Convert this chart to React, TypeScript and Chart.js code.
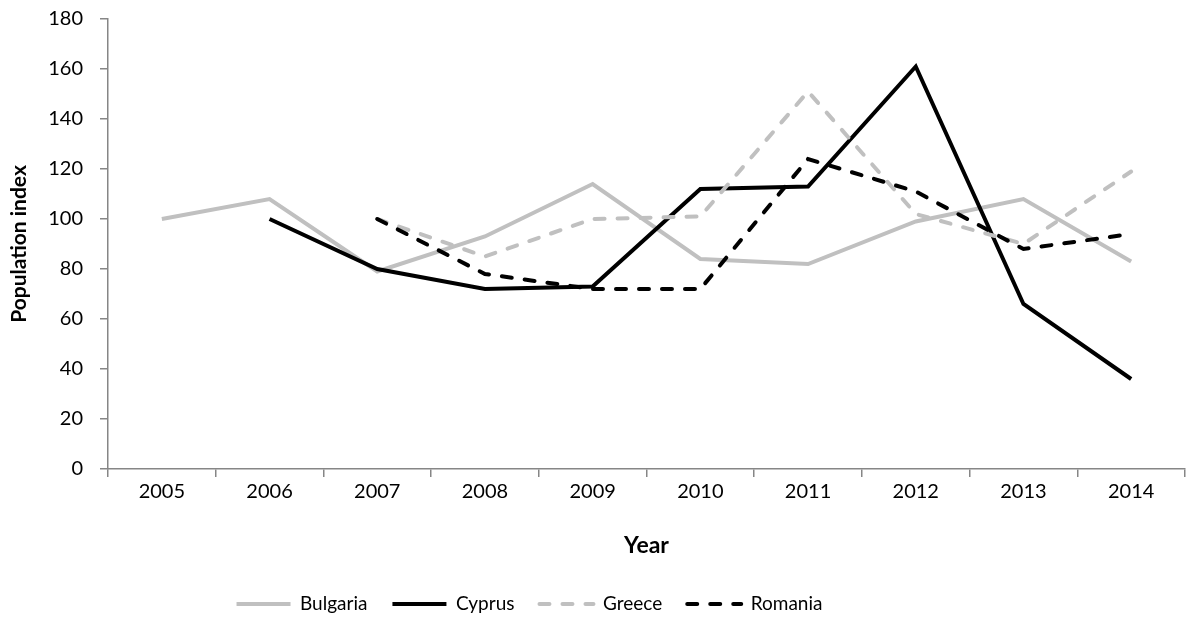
import React, { useEffect, useRef } from "react";
import { Chart, registerables } from "chart.js";

Chart.register(...registerables);

const years = ["2005", "2006", "2007", "2008", "2009", "2010", "2011", "2012", "2013", "2014"];
const bulgaria = [100, 108, 79, 93, 114, 84, 82, 99, 108, 83];
const cyprus = [null, 100, 80, 72, 73, 112, 113, 161, 66, 36];
const greece = [null, null, 100, 85, 100, 101, 151, 102, 90, 119];
const romania = [null, null, 100, 78, 72, 72, 124, 111, 88, 94];

const FONT = "Lato, 'Open Sans', sans-serif";
const GRAY = "#c0c0c0";
const AXIS = "#868686";
const DASH = [10, 13];

const LEGEND_CENTER_Y = 604;
const LEGEND_SHIFT_X = -63;

const legendPlacer = {
  id: "legendPlacer",
  afterLayout(chart: any) {
    const lg = chart.legend;
    if (!lg) return;
    const p = lg.options.labels.padding;
    const fs = lg.options.labels.font.size;
    const h = lg.height;
    lg.top = LEGEND_CENTER_Y - p - fs / 2;
    lg.bottom = lg.top + h;
    lg.left += LEGEND_SHIFT_X;
    lg.right += LEGEND_SHIFT_X;
  },
};

export default function App() {
  const ref = useRef<HTMLCanvasElement | null>(null);

  useEffect(() => {
    document.body.style.margin = "0";
    const ctx = ref.current;
    if (!ctx) return;
    const chart = new Chart(ctx, {
      type: "line",
      plugins: [legendPlacer],
      data: {
        labels: years,
        datasets: [
          {
            label: "Bulgaria",
            data: bulgaria,
            borderColor: GRAY,
            backgroundColor: GRAY,
            borderWidth: 4,
            pointRadius: 0,
            order: 4,
          },
          {
            label: "Cyprus",
            data: cyprus,
            borderColor: "#000000",
            backgroundColor: "#000000",
            borderWidth: 4,
            pointRadius: 0,
            order: 3,
          },
          {
            label: "Greece",
            data: greece,
            borderColor: GRAY,
            backgroundColor: GRAY,
            borderWidth: 4,
            borderDash: DASH,
            borderCapStyle: "round",
            pointRadius: 0,
            order: 2,
          },
          {
            label: "Romania",
            data: romania,
            borderColor: "#000000",
            backgroundColor: "#000000",
            borderWidth: 4,
            borderDash: DASH,
            borderCapStyle: "round",
            pointRadius: 0,
            order: 1,
          },
        ],
      },
      options: {
        animation: false,
        responsive: false,
        maintainAspectRatio: false,
        layout: { padding: { top: 19, right: 2, left: 0, bottom: 0 } },
        plugins: {
          tooltip: { enabled: false },
          legend: {
            position: "bottom",
            labels: {
              usePointStyle: true,
              pointStyle: "line",
              pointStyleWidth: 54,
              padding: 25,
              color: "#000",
              font: { family: FONT, size: 19 },
              sort: (a: any, b: any) => a.datasetIndex - b.datasetIndex,
              generateLabels: (chart: any) => {
                const items = Chart.defaults.plugins.legend.labels.generateLabels(chart);
                return items.map((it: any) => {
                  const ds = chart.data.datasets[it.datasetIndex];
                  return {
                    ...it,
                    pointStyle: "line",
                    strokeStyle: ds.borderColor,
                    fillStyle: ds.borderColor,
                    lineWidth: 4,
                    lineDash: ds.borderDash || [],
                    lineCap: ds.borderDash ? "round" : "butt",
                  };
                });
              },
            },
          },
        },
        scales: {
          x: {
            type: "category",
            offset: true,
            grid: {
              offset: true,
              drawOnChartArea: false,
              drawTicks: true,
              tickLength: 8,
              color: AXIS,
              lineWidth: 1.5,
            },
            border: { color: AXIS, width: 1.5 },
            ticks: { color: "#000", font: { family: FONT, size: 20 }, padding: 3, maxRotation: 0 },
            title: {
              display: true,
              text: "Year",
              color: "#000",
              font: { family: FONT, size: 23, weight: "bold" },
              padding: { top: 4, bottom: 22 },
            },
            afterFit: (s: any) => {
              s.height = 112;
              s.paddingLeft = 0;
              s.paddingRight = 0;
            },
          },
          y: {
            min: 0,
            max: 180,
            ticks: { stepSize: 20, color: "#000", font: { family: FONT, size: 20 }, padding: 17 },
            grid: {
              drawOnChartArea: false,
              drawTicks: true,
              tickLength: 8,
              color: AXIS,
              lineWidth: 1.5,
            },
            border: { color: AXIS, width: 1.5 },
            title: {
              display: true,
              text: "Population index",
              color: "#000",
              font: { family: FONT, size: 21, weight: "bold" },
              padding: { top: 7, bottom: 4 },
            },
            afterFit: (s: any) => {
              s.width = 108;
              s.paddingTop = 0;
              s.paddingBottom = 0;
            },
          },
        },
      },
    });
    return () => chart.destroy();
  }, []);

  return (
    <div style={{ width: 1187, height: 635 }}>
      <canvas ref={ref} width={1187} height={635} style={{ display: "block", width: 1187, height: 635 }} />
    </div>
  );
}
